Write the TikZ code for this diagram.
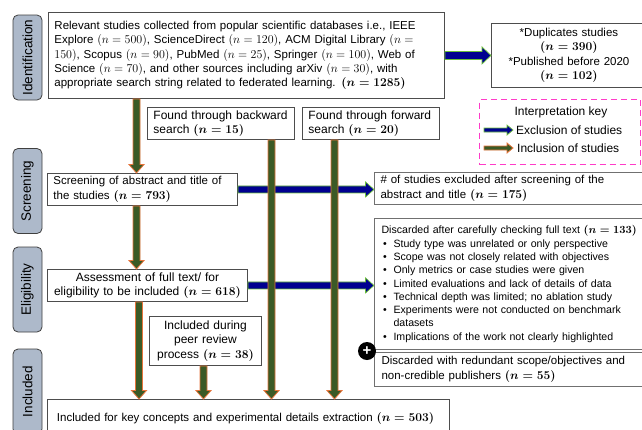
\documentclass[tikz,border=0pt]{standalone}
\usepackage[no-math]{fontspec}
\setmainfont{Liberation Sans}
\usetikzlibrary{calc}

\definecolor{incgreen}{HTML}{3B5A26}
\definecolor{incorange}{HTML}{E8743B}
\definecolor{excblue}{HTML}{000090}
\definecolor{excgreen}{HTML}{6CBF3A}
\definecolor{phasefill}{HTML}{ADB9CA}
\definecolor{phaseedge}{HTML}{404040}
\definecolor{boxgray}{HTML}{4D4D4D}
\definecolor{sidegray}{HTML}{707070}
\definecolor{keypink}{HTML}{FF3CC8}

% counts: regular and bold, kept rigid inside stretched lines
\newcommand\rnum[1]{\mbox{$(n=#1)$}}
\newcommand\bnum[1]{\mbox{\boldmath$(n=\mathbf{#1})$}}
\newcommand\bul{\makebox[12pt][l]{\hspace{1.5pt}\textbullet}}

\tikzset{
  fat shaft/.store in=\fatS, fat head/.store in=\fatH, fat len/.store in=\fatL,
  fat shaft=3.5pt, fat head=7.5pt, fat len=8.5pt,
  fat down/.style={to path={let \p1=(\tikztostart),\p2=(\tikztotarget) in
    (\x1-\fatS,\y1) -- (\x1-\fatS,\y2+\fatL) -- (\x1-\fatH,\y2+\fatL) -- (\x1,\y2)
    -- (\x1+\fatH,\y2+\fatL) -- (\x1+\fatS,\y2+\fatL) -- (\x1+\fatS,\y1) -- cycle}},
  fat right/.style={to path={let \p1=(\tikztostart),\p2=(\tikztotarget) in
    (\x1,\y1+\fatS) -- (\x2-\fatL,\y1+\fatS) -- (\x2-\fatL,\y1+\fatH) -- (\x2,\y1)
    -- (\x2-\fatL,\y1-\fatH) -- (\x2-\fatL,\y1-\fatS) -- (\x1,\y1-\fatS) -- cycle}},
  incl/.style={fill=incgreen, draw=incorange, line width=0.8pt, line join=miter},
  excl/.style={fill=excblue, draw=excgreen, line width=0.7pt, line join=miter},
  box/.style={draw=boxgray, line width=0.9pt, fill=white, inner ysep=0pt,
    inner xsep=6pt, anchor=north west, font=\fontsize{11.5pt}{14.6pt}\selectfont},
  bigtext/.style={font=\fontsize{12pt}{14.6pt}\selectfont},
  sidebox/.style={box, draw=sidegray, line width=1.1pt},
  phase/.style={draw=phaseedge, fill=phasefill, rounded corners=5pt, line width=0.8pt,
    rotate=90, minimum width=85pt, minimum height=29pt, inner sep=0pt,
    font=\fontsize{13.5pt}{16pt}\selectfont},
}

\begin{document}
\begin{tikzpicture}[x=1pt, y=-1pt]
\useasboundingbox (0,0) rectangle (642,429);
\clip (0,0) rectangle (642,429);
\fill[white] (0,0) rectangle (642,429);

% phase labels
\node[phase] (ph1) at (27.5,57.5) {Identification};
\node[phase] (ph2) at (27.5,191) {Screening};
\node[phase] (ph3) at (27.5,289.5) {Eligibility};
\node[phase] (ph4) at (27.5,391.5) {Included};

% main flow boxes
\node[box, text width=384pt, minimum height=86pt, align=left,
  font=\fontsize{11.5pt}{14.3pt}\selectfont] (src) at (48,12) {%
\makebox[383pt][s]{Relevant studies collected from popular scientific databases i.e., IEEE}\\
\makebox[383pt][s]{Explore \rnum{500}, ScienceDirect \rnum{120}, ACM Digital Library \mbox{$(n=$}}\\
\makebox[383pt][s]{\mbox{$150)$}, Scopus \rnum{90}, PubMed \rnum{25}, Springer \rnum{100}, Web of}\\
\makebox[383pt][s]{Science \rnum{70}, and other sources including arXiv \rnum{30}, with}\\
appropriate search string related to federated learning. \bnum{1285}};

\node[box, text width=145pt, inner xsep=5pt, minimum height=64pt, align=center,
  font=\fontsize{11.5pt}{14.5pt}\selectfont] (dup) at (491,23) {%
{*}Duplicates studies\\ \bnum{390}\\ {*}Published before 2020\\ \bnum{102}};

\node[box, bigtext, text width=135pt, minimum height=32pt, align=left] (back) at (147,107) {%
Found through backward\\ search \bnum{15}};
\node[box, bigtext, text width=125pt, minimum height=32pt, align=left] (fwd) at (302,107) {%
Found through forward\\ search \bnum{20}};

\node[box, text width=178pt, minimum height=32pt, align=left] (screen) at (47,173) {%
Screening of abstract and title of\\ the studies \bnum{793}};

\node[sidebox, text width=262pt, minimum height=32pt, align=left] (exA) at (374,172) {%
\makebox[258pt][s]{\# of studies excluded after screening of the}\\
abstract and title \bnum{175}};

\node[sidebox, text width=262pt, inner xsep=7pt, minimum height=131pt, align=left,
  font=\fontsize{10.6pt}{13.3pt}\selectfont] (disc) at (374,218) {%
\makebox[257pt][s]{Discarded after carefully checking full text \bnum{133}}\\
\bul Study type was unrelated or only perspective\\
\bul Scope was not closely related with objectives\\
\bul Only metrics or case studies were given\\
\bul Limited evaluations and lack of details of data\\
\bul Technical depth was limited; no ablation study\\
\bul\makebox[245pt][s]{Experiments were not conducted on benchmark}\\
\hspace*{12pt}datasets\\
\bul Implications of the work not clearly highlighted};

\node[sidebox, text width=262pt, inner xsep=7pt, minimum height=34pt, align=left] (red) at (374,352) {%
\makebox[257pt][s]{Discarded with redundant scope/objectives and}\\
non-credible publishers \bnum{55}};

\node[box, bigtext, text width=188pt, minimum height=32pt, align=center] (elig) at (47,269) {%
Assessment of full text/ for\\ eligibility to be included \bnum{618}};

\node[box, bigtext, text width=100pt, minimum height=49pt, align=center] (peer) at (149,316) {%
Included during\\ peer review\\ process \bnum{38}};

\node[box, text width=390pt, minimum height=38pt, align=center] (incbox) at (47,399) {%
\makebox[383pt][s]{Included for key concepts and experimental details extraction \bnum{503}}};

% merge marker between the two discard boxes
\node[circle, fill=black, minimum size=18pt, inner sep=0pt,
  font=\fontsize{15pt}{15pt}\selectfont\bfseries, text=white] (plus) at (367,351) {+};

% interpretation key
\node[draw=keypink, dash pattern=on 6pt off 4pt, line width=1.2pt, minimum width=161pt,
  minimum height=65pt, anchor=north west, inner sep=0pt] (key) at (479,99) {};
\node[font=\fontsize{12pt}{14pt}\selectfont] (keyt) at (561,112) {Interpretation key};
\coordinate (k1s) at (484,130); \coordinate (k1e) at (513,130);
\coordinate (k2s) at (484,148); \coordinate (k2e) at (513,148);
\draw[excl, fat shaft=2pt, fat head=5pt, fat len=6pt] (k1s) to[fat right] (k1e);
\draw[incl, fat shaft=2pt, fat head=5pt, fat len=6pt] (k2s) to[fat right] (k2e);
\node[anchor=west, inner sep=0pt, font=\fontsize{12pt}{14pt}\selectfont] (k1t) at (516,130) {Exclusion of studies};
\node[anchor=west, inner sep=0pt, font=\fontsize{12pt}{14pt}\selectfont] (k2t) at (517,148) {Inclusion of studies};

% lanes of the vertical arrows
\coordinate (xMain) at (136.5,0);
\coordinate (xElig) at (139,0);
\coordinate (xPeer) at (203.5,0);
\coordinate (xBack) at (271.5,0);
\coordinate (xFwd) at (334.5,0);

% exclusion arrows
\draw[excl, fat shaft=4pt, fat head=8.5pt, fat len=9pt] (src.east) to[fat right] (dup.west);
\draw[excl] (screen.east) to[fat right] (screen.east -| exA.west);
\draw[excl] (elig.east) to[fat right] (elig.east -| disc.west);

% inclusion arrows
\draw[incl] (src.south -| xMain) to[fat down] (screen.north -| xMain);
\draw[incl] (screen.south -| xMain) to[fat down] (elig.north -| xMain);
\draw[incl] (elig.south -| xElig) to[fat down] (incbox.north -| xElig);
\draw[incl] (peer.south -| xPeer) to[fat down] (incbox.north -| xPeer);
\draw[incl] (back.south -| xBack) to[fat down] (incbox.north -| xBack);
\draw[incl] (fwd.south -| xFwd) to[fat down] (incbox.north -| xFwd);
\end{tikzpicture}
\end{document}
